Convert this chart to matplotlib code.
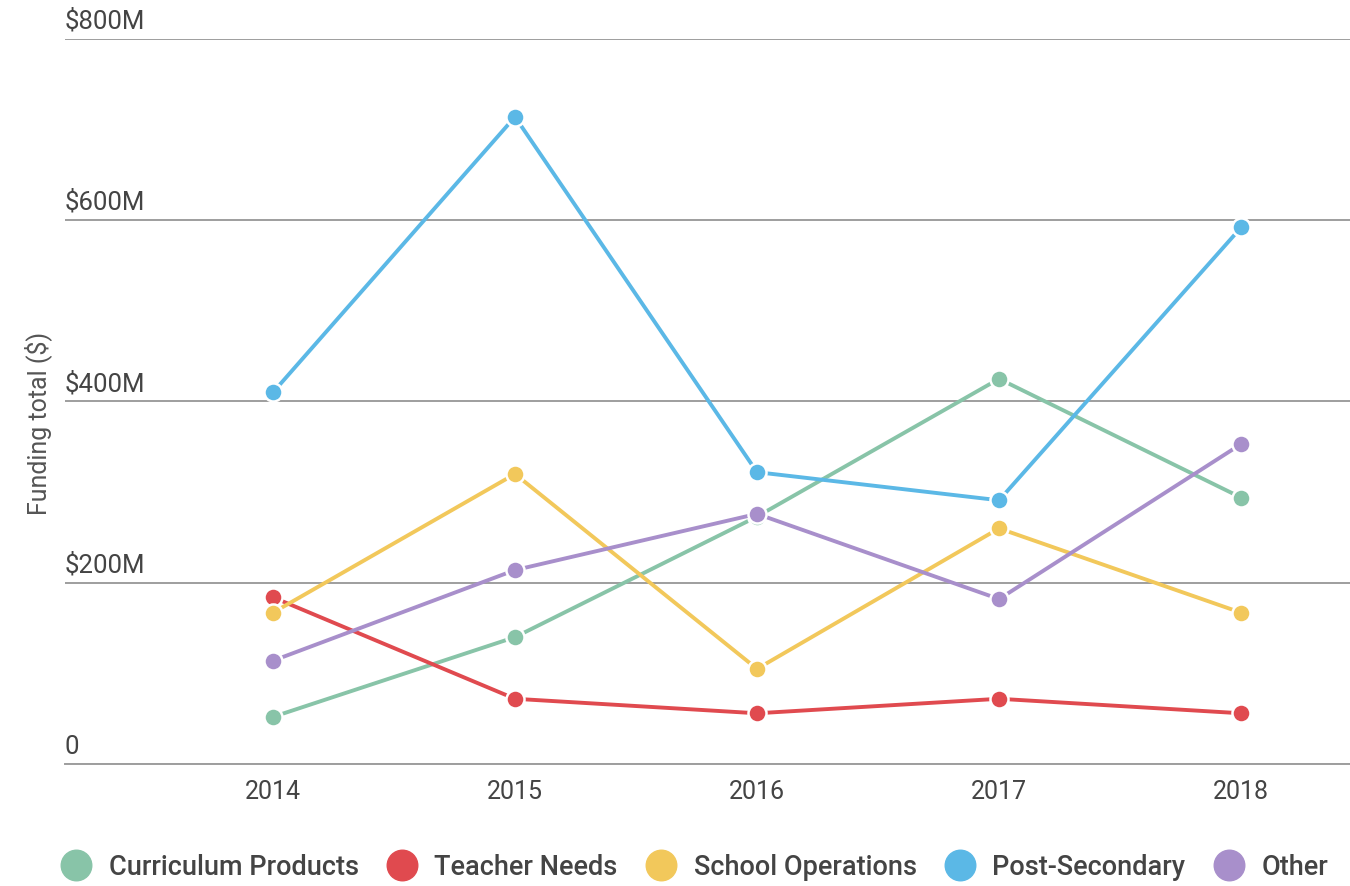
import matplotlib
matplotlib.use('Agg')
import matplotlib.pyplot as plt
from matplotlib.lines import Line2D
import matplotlib.transforms as mtransforms

plt.rcParams['font.family'] = ['Roboto', 'DejaVu Sans']

years = [2014, 2015, 2016, 2017, 2018]
curriculum = [52, 140, 273, 425, 294]
teacher = [184, 72, 56, 72, 56]
school_ops = [167, 320, 105, 260, 167]
post_secondary = [410, 714, 322, 291, 592]
other = [114, 214, 276, 182, 353]

series_names = ['Curriculum Products', 'Teacher Needs', 'School Operations', 'Post-Secondary', 'Other']
series_vals = [curriculum, teacher, school_ops, post_secondary, other]
colors = ['#88c4a8', '#e04a4f', '#f2c85b', '#5bb8e6', '#a88fcb']

y_ticks = [0, 200, 400, 600, 800]
y_labels = ['0', '$200M', '$400M', '$600M', '$800M']

fig = plt.figure(figsize=(13.5, 8.87), dpi=100)
ax = fig.add_axes([0.048, 0.1375, 0.952, 0.8175])

for name, vals, c in zip(series_names, series_vals, colors):
    ax.plot(years, vals, color=c, lw=2.8, marker='o', markersize=13,
            markeredgecolor='white', markeredgewidth=1.8, label=name, zorder=3)

ax.set_xlim(2013.14, 2018.45)
ax.set_ylim(0, 800)
ax.set_xticks(years)
ax.set_xticklabels([str(y) for y in years])
ax.set_yticks(y_ticks)
ax.set_yticklabels([])
ax.tick_params(axis='both', length=0)
ax.tick_params(axis='x', labelsize=18, labelcolor='#444444', pad=11)
ax.grid(axis='y', color='#9e9e9e', lw=1.4)
ax.set_axisbelow(True)
for s in ['top', 'right', 'left']:
    ax.spines[s].set_visible(False)
ax.spines['bottom'].set_color('#9e9e9e')
ax.spines['bottom'].set_linewidth(1.4)

trans = mtransforms.blended_transform_factory(ax.transAxes, ax.transData)
for v, lab in zip(y_ticks, y_labels):
    ax.text(0.0, v + 7, lab, transform=trans, ha='left', va='bottom',
            fontsize=18.5, color='#444444')

fig.text(38 / 1350, 1 - 423 / 887, 'Funding total ($)', rotation=90,
         ha='center', va='center', fontsize=18, color='#555555')

handles = [Line2D([], [], ls='none', marker='o', markersize=22, color=c) for c in colors]
fig.legend(handles, series_names, loc='center', bbox_to_anchor=(0.51, 1 - 868 / 887),
           ncol=5, frameon=False, handletextpad=0.2, columnspacing=0.6,
           labelcolor='#444444', prop={'weight': 'medium', 'size': 19.5})

fig.savefig('out.png', dpi=100)
